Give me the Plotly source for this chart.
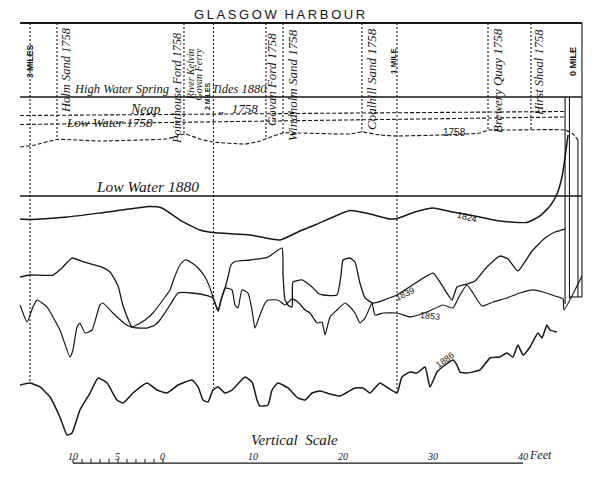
import plotly.graph_objects as go

# ---------------- data ----------------
# distance: miles above the 0-mile point ; level: feet relative to Low Water 1880
HW_SPRING_1880 = 11.0
LW_1880 = 0.0
TOP_FRAME = 19.22
RIVER_START, RIVER_END = 3.054, -0.008

neap_1758_miles = [3.054, 0.084]
neap_1758_feet = [8.94, 9.39]
lw_1758_miles = [3.054, 0.084]
lw_1758_feet = [7.94, 8.78]

bed_1758_miles = [3.054, 2.973, 2.853, 2.619, 2.401, 2.264, 2.210, 2.155, 2.074, 2.003, 1.828, 1.747,
                  1.703, 1.621, 1.529, 1.256, 1.191, 1.093, 1.000, 0.766, 0.548, 0.504, 0.395, 0.084,
                  0.046, 0.014]
bed_1758_feet = [5.44, 5.67, 6.28, 6.11, 6.22, 6.33, 6.56, 6.89, 6.33, 6.0, 5.78, 6.11,
                 6.44, 7.0, 7.0, 6.89, 7.11, 6.78, 6.67, 6.78, 7.0, 7.33, 7.33, 7.33,
                 7.0, 6.22]

bed_1824_miles = [3.054, 3.000, 2.798, 2.619, 2.346, 2.281, 2.183, 2.074, 2.003, 1.801, 1.638, 1.529,
                  1.447, 1.256, 1.147, 1.038, 1.000, 0.902, 0.804, 0.695, 0.548, 0.439, 0.292, 0.221,
                  0.166, 0.128, 0.101, 0.084, 0.068]
bed_1824_feet = [-2.56, -2.61, -2.33, -1.89, -1.17, -1.33, -2.67, -3.78, -4.06, -4.33, -4.89, -3.89,
                 -3.22, -1.61, -2.0, -2.56, -2.5, -1.78, -1.33, -1.78, -2.33, -2.78, -2.94, -2.22,
                 -1.11, 0.22, 2.11, 4.33, 6.78]

bed_1839_miles = [3.054, 3.000, 2.875, 2.826, 2.771, 2.711, 2.619, 2.564, 2.520, 2.493, 2.444, 2.401,
                  2.362, 2.319, 2.292, 2.237, 2.193, 2.117, 2.030, 2.003, 1.986, 1.975, 1.959, 1.937,
                  1.921, 1.905, 1.883, 1.801, 1.703, 1.627, 1.621, 1.610, 1.589, 1.572, 1.567, 1.518,
                  1.463, 1.431, 1.403, 1.327, 1.305, 1.294, 1.256, 1.229, 1.202, 1.174, 1.131, 1.000,
                  0.804, 0.749, 0.700, 0.673, 0.619, 0.575, 0.510, 0.439, 0.395, 0.341, 0.264, 0.193,
                  0.139, 0.084]
bed_1839_feet = [-9.0, -8.78, -8.78, -8.0, -6.89, -7.28, -7.83, -8.44, -10.0, -12.22, -14.56, -14.67,
                 -14.67, -14.33, -13.78, -12.11, -10.78, -10.78, -11.11, -11.33, -12.22, -12.78, -11.56, -10.22,
                 -9.0, -7.67, -7.28, -7.11, -6.78, -5.78, -8.78, -11.56, -12.22, -12.33, -9.56, -9.33,
                 -10.11, -10.78, -11.0, -11.0, -8.78, -7.11, -6.89, -7.33, -9.67, -11.33, -11.89, -11.0,
                 -8.56, -10.11, -11.56, -10.11, -9.78, -9.44, -7.89, -6.67, -7.0, -8.33, -6.11, -4.67,
                 -4.0, -3.67]

bed_1853_miles = [3.054, 3.016, 2.984, 2.962, 2.908, 2.837, 2.782, 2.766, 2.744, 2.728, 2.700, 2.662,
                  2.619, 2.602, 2.548, 2.482, 2.444, 2.373, 2.330, 2.264, 2.237, 2.210, 2.183, 2.155,
                  2.117, 2.084, 2.046, 2.019, 2.003, 1.986, 1.975, 1.959, 1.937, 1.899, 1.883, 1.866,
                  1.845, 1.812, 1.790, 1.774, 1.747, 1.719, 1.703, 1.649, 1.610, 1.572, 1.540, 1.501,
                  1.474, 1.436, 1.409, 1.392, 1.365, 1.327, 1.283, 1.256, 1.229, 1.202, 1.174, 1.136,
                  1.120, 1.076, 1.000, 0.929, 0.837, 0.749, 0.695, 0.657, 0.619, 0.586, 0.537, 0.477,
                  0.401, 0.330, 0.259, 0.204, 0.139, 0.095, 0.090, -0.008]
bed_1853_feet = [-12.11, -14.0, -12.33, -11.56, -12.33, -14.89, -17.89, -17.11, -14.56, -14.11, -15.22, -14.89,
                 -12.11, -11.89, -13.0, -14.22, -14.56, -13.78, -13.0, -11.22, -10.44, -8.89, -7.67, -7.11,
                 -7.44, -8.0, -9.0, -10.22, -11.22, -12.22, -12.78, -11.56, -10.22, -10.44, -12.11, -12.44,
                 -10.44, -10.78, -12.67, -14.67, -13.22, -11.89, -11.56, -11.56, -12.11, -11.44, -11.78, -12.67,
                 -13.0, -14.11, -14.0, -15.44, -13.44, -12.67, -11.89, -12.33, -13.0, -14.11, -13.56, -11.89,
                 -13.22, -13.0, -13.0, -13.44, -12.89, -12.11, -12.44, -11.0, -9.89, -10.78, -12.22, -11.78,
                 -11.33, -10.78, -10.44, -10.67, -11.11, -11.44, -12.67, -8.89]

bed_1886_miles = [3.054, 3.000, 2.946, 2.891, 2.837, 2.798, 2.771, 2.728, 2.673, 2.629, 2.580, 2.526,
                  2.493, 2.439, 2.362, 2.308, 2.253, 2.193, 2.117, 2.084, 2.057, 2.030, 2.003, 1.975,
                  1.937, 1.899, 1.828, 1.790, 1.763, 1.747, 1.703, 1.681, 1.649, 1.594, 1.540, 1.501,
                  1.463, 1.420, 1.365, 1.311, 1.229, 1.185, 1.147, 1.093, 1.049, 1.000, 0.973, 0.929,
                  0.891, 0.847, 0.820, 0.782, 0.738, 0.695, 0.673, 0.657, 0.619, 0.548, 0.493, 0.439,
                  0.401, 0.368, 0.341, 0.313, 0.275, 0.232, 0.210, 0.183, 0.166, 0.128]
bed_1886_feet = [-21.0, -20.78, -21.22, -22.33, -24.56, -26.56, -26.33, -23.78, -21.89, -20.22, -20.78, -22.67,
                 -23.0, -21.89, -20.78, -21.56, -21.89, -21.0, -20.44, -21.22, -22.67, -22.89, -21.56, -21.22,
                 -21.89, -21.56, -20.11, -20.67, -22.67, -23.33, -23.22, -21.56, -20.78, -21.33, -22.44, -22.67,
                 -21.89, -21.67, -22.0, -22.22, -21.33, -21.33, -21.89, -20.78, -21.33, -21.89, -20.11, -19.56,
                 -19.67, -19.0, -21.22, -19.56, -18.78, -18.22, -18.78, -19.56, -19.67, -19.33, -18.0, -17.89,
                 -17.44, -17.89, -16.56, -17.67, -16.78, -15.22, -15.78, -14.33, -14.89, -15.11]

# quay walls at the 0-mile end
wall_miles = [0.084, 0.060, 0.014, -0.008]
wall_top_feet = [11.0, 11.0, 6.22, 19.22]
wall_foot_feet = [-12.0, -11.4, -11.22, -11.22]

landmark_names = ["3 MILES", "Holm Sand 1758", "Pointhouse Ford 1758", "2 MILES", "Govan Ford 1758",
                  "Windholm Sand 1758", "Coalhill Sand 1758", "1 MILE", "Brewery Quay 1758", "Hirst Shoal 1758"]
landmark_miles = [3.0, 2.853, 2.161, 2.0, 1.714, 1.621, 1.191, 1.0, 0.504, 0.270]
landmark_foot_feet = [-20.78, 6.33, 6.78, -21.33, 6.44, 7.0, 7.11, -22.11, 7.33, 7.33]

scale_feet = [-10, -5, 0, 10, 20, 30, 40]
scale_labels = ["10", "5", "0", "10", "20", "30", "40"]
scale_minor = [-10, -9, -8, -7, -6, -5, -4, -3, -2, -1, 0]

INK = "#161616"
SERIF = "Liberation Serif"
SANS = "Liberation Sans"

fig = go.Figure()


def add_line(xs, ys, width=1.4, dash=None, spline=True, xaxis="x"):
    fig.add_trace(go.Scatter(
        x=xs, y=ys, mode="lines", xaxis=xaxis, hoverinfo="skip",
        line=dict(color=INK, width=width, dash=dash,
                  shape="spline" if spline else "linear", smoothing=0.45)))


# frame and tidal levels
add_line([RIVER_START, RIVER_END], [TOP_FRAME, TOP_FRAME], width=2.0, spline=False)
add_line([RIVER_START, RIVER_END], [HW_SPRING_1880, HW_SPRING_1880], width=1.6, spline=False)
add_line([RIVER_START, RIVER_END], [LW_1880, LW_1880], width=1.6, spline=False)
add_line(neap_1758_miles, neap_1758_feet, width=1.1, dash="4px,2px", spline=False)
add_line(lw_1758_miles, lw_1758_feet, width=1.1, dash="4px,2px", spline=False)

# landmark verticals
for m, foot in zip(landmark_miles, landmark_foot_feet):
    add_line([m, m], [TOP_FRAME, foot], width=1.1, dash="2px,2px", spline=False)

# beds
add_line(bed_1758_miles, bed_1758_feet, width=1.1, dash="4px,2px")
add_line(bed_1824_miles, bed_1824_feet, width=1.5)
add_line(bed_1839_miles, bed_1839_feet, width=1.3)
add_line(bed_1853_miles, bed_1853_feet, width=1.2)
add_line(bed_1886_miles, bed_1886_feet, width=1.5)

# quay walls
for m, t, b in zip(wall_miles, wall_top_feet, wall_foot_feet):
    add_line([m, m], [t, b], width=1.1, spline=False)
add_line([wall_miles[1], wall_miles[3]], [wall_foot_feet[3], wall_foot_feet[3]], width=1.1, spline=False)

# vertical scale (own axis, in feet)
add_line([scale_feet[0], scale_feet[-1]], [-29.67, -29.67], width=1.3, spline=False, xaxis="x2")
fig.add_trace(go.Scatter(x=scale_minor, y=[-29.45] * len(scale_minor), mode="markers", xaxis="x2",
                         hoverinfo="skip",
                         marker=dict(symbol="line-ns", size=3, line=dict(color=INK, width=1))))

ann = []


def text(x, y, s, size=12, font=SERIF, angle=0, xanchor="center", yanchor="middle", xref="x", italic=True):
    ann.append(dict(x=x, y=y, xref=xref, yref="y", text=("<i>%s</i>" % s) if italic else s,
                    showarrow=False, textangle=angle, xanchor=xanchor, yanchor=yanchor,
                    font=dict(family=font, size=size, color=INK), borderpad=0))


text(1.643, 20.22, "\u2009".join("GLASGOW") + "\u2009\u2009\u2009" + "\u2009".join("HARBOUR"),
     size=13, font=SANS, italic=False)

# landmark labels
text(3.0, 14.89, "<b>3 MILES</b>", size=8.5, font=SANS, angle=-90, italic=False)
text(2.804, 14.0, "Holm Sand 1758", size=12.5, angle=-90)
text(2.199, 12.0, "Pointhouse Ford 1758", size=12.3, angle=-90)
text(2.128, 13.44, "River Kelvin", size=10, angle=-90)
text(2.087, 13.44, "Govan Ferry", size=10, angle=-90)
text(2.035, 11.11, "<b>2 MILES</b>", size=7, font=SANS, angle=-90, italic=False)
text(1.681, 12.89, "Govan Ford 1758", size=13, angle=-90)
text(1.572, 12.33, "Windholm Sand 1758", size=13, angle=-90)
text(1.142, 13.0, "Coalhill Sand 1758", size=13, angle=-90)
text(1.022, 15.0, "<b>1 MILE</b>", size=8, font=SANS, angle=-90, italic=False)
text(0.450, 12.89, "Brewery Quay 1758", size=13, angle=-90)
text(0.226, 13.67, "Hirst Shoal 1758", size=12.5, angle=-90)
text(0.041, 15.0, "<b>0 MILE</b>", size=9, font=SANS, angle=-90, italic=False)

# level labels
text(2.501, 11.0, "High Water Spring", size=12.5, yanchor="bottom")
text(1.856, 11.0, "Tides 1880", size=12.5, yanchor="bottom")
text(2.373, 9.56, "Neap", size=14)
text(1.866, 9.67, "\u201e  1758", size=13)
text(2.569, 8.22, "Low Water 1758", size=13)
text(2.357, 0.0, "Low Water 1880", size=15.5, yanchor="bottom")

# survey year labels
text(0.684, 7.11, "1758", size=10, font=SANS, italic=False)
text(0.619, -2.33, "1824", size=9, font=SANS, angle=15, italic=False)
text(0.957, -10.89, "1839", size=9, font=SANS, angle=-25, italic=False)
text(0.820, -13.33, "1853", size=9, font=SANS, angle=5, italic=False)
text(0.738, -18.22, "1886", size=9, font=SANS, angle=-35, italic=False)

# scale labels
text(1.558, -27.11, "Vertical  Scale", size=15)
for f, lab in zip(scale_feet, scale_labels):
    text(f, -28.9, lab, size=10, xref="x2")
text(40.6, -28.8, "Feet", size=12, xref="x2", xanchor="left")

fig.update_layout(
    width=600, height=480, margin=dict(l=0, r=0, t=0, b=0),
    paper_bgcolor="white", plot_bgcolor="white", showlegend=False,
    xaxis=dict(range=[3.1635, -0.1063], visible=False),
    xaxis2=dict(range=[-18.11, 48.56], overlaying="x", visible=False),
    yaxis=dict(range=[-31.556, 21.778], visible=False),
    annotations=ann,
)

fig.write_html("out.html")
